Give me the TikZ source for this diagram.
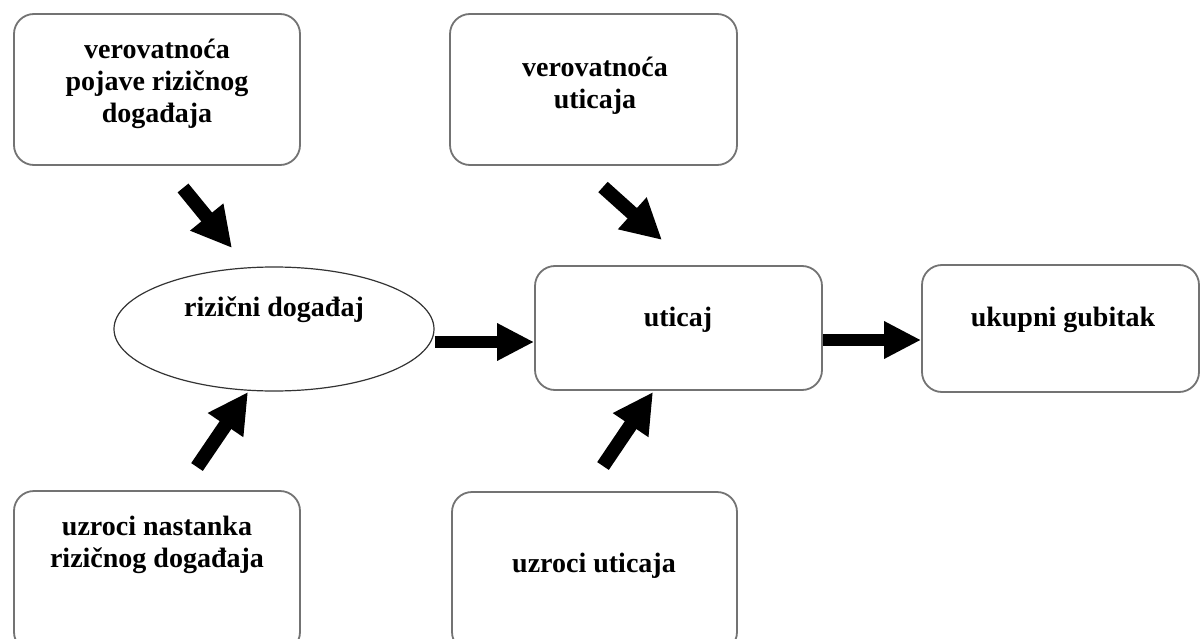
\documentclass[tikz,border=0pt]{standalone}
\usepackage{fontspec}
\setmainfont{Liberation Serif}
\usetikzlibrary{arrows.meta,shapes.geometric}
\begin{document}
\begin{tikzpicture}[x=1pt,y=-1pt,
  box/.style={draw=black!55,line width=1.8pt,rounded corners=20pt,inner sep=0pt},
  lbl/.style={font=\fontsize{28}{32}\selectfont\bfseries,align=center,inner sep=0pt},
  fat/.style={line width=12pt,-{Triangle[width=35pt,length=37pt]}},
  slant/.style={line width=14pt,-{Triangle[width=40pt,length=40pt]}},
]
\useasboundingbox (0,0) rectangle (1201,639);
\fill[white] (0,0) rectangle (1201,639);

% boxes
\node[box,minimum width=286pt,minimum height=151pt] (pojava) at (157,89.5) {};
\node[box,minimum width=287pt,minimum height=151pt] (vuticaj) at (593.5,89.5) {};
\node[draw=black!80,line width=1.2pt,ellipse,minimum width=320pt,minimum height=124pt,inner sep=0pt] (dogadjaj) at (274,329) {};
\node[box,minimum width=287pt,minimum height=124pt] (uticaj) at (678.5,328) {};
\node[box,minimum width=277pt,minimum height=127pt] (gubitak) at (1060.5,328.5) {};
\node[box,minimum width=286pt,minimum height=161pt] (uzroci) at (157,571.5) {};
\node[box,minimum width=285pt,minimum height=160pt] (uuticaj) at (594.5,572) {};

% texts
\node[lbl] (tpojava) at (157,84) {verovatnoća\\pojave rizičnog\\događaja};
\node[lbl] (tvuticaj) at (595,86) {verovatnoća\\uticaja};
\node[lbl] (tdogadjaj) at (274,310) {rizični događaj};
\node[lbl] (tuticaj) at (678,320) {uticaj};
\node[lbl] (tgubitak) at (1063,320) {ukupni gubitak};
\node[lbl] (tuzroci) at (157,545) {uzroci nastanka\\rizičnog događaja};
\node[lbl] (tuuticaj) at (594,566) {uzroci uticaja};

% arrow ends
\coordinate (p1) at (183,188);
\coordinate (p2) at (232,248);
\coordinate (q1) at (197,467);
\coordinate (q2) at (248,392);
\coordinate (r1) at (603,187);
\coordinate (r2) at (662,240);
\coordinate (s1) at (603,466);
\coordinate (s2) at (653,392);

% arrows
\draw[slant] (p1) -- (p2);
\draw[slant] (q1) -- (q2);
\draw[slant] (r1) -- (r2);
\draw[slant] (s1) -- (s2);
\draw[fat] ([yshift=-13pt]dogadjaj.east) -- ([yshift=-13pt]dogadjaj.east -| uticaj.west);
\draw[fat] ([yshift=-12pt]uticaj.east) -- ([yshift=-12pt]uticaj.east -| gubitak.west);
\end{tikzpicture}
\end{document}
